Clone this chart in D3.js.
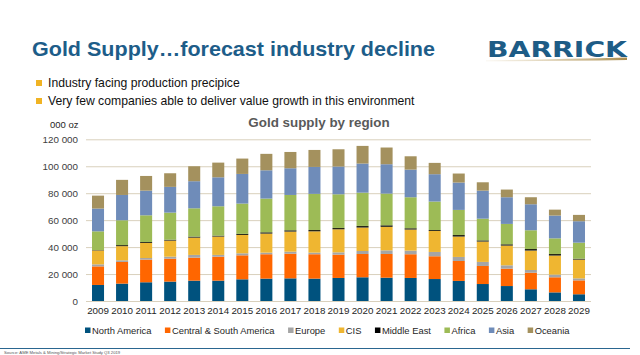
<!DOCTYPE html>
<html>
<head>
<meta charset="utf-8">
<script src="https://cdn.jsdelivr.net/npm/d3@7/dist/d3.min.js"></script>
<style>
  html, body { margin: 0; padding: 0; background: #fff; }
  svg { display: block; font-family: "Liberation Sans", Arial, sans-serif; }
</style>
</head>
<body>
<svg id="chart" width="640" height="355"></svg>
<script>
// ---- Data (000 oz) ----
const years = ["2009","2010","2011","2012","2013","2014","2015","2016","2017","2018","2019","2020","2021","2022","2023","2024","2025","2026","2027","2028","2029"];
const seriesNames = ["North America","Central & South America","Europe","CIS","Middle East","Africa","Asia","Oceania"];
const northAmerica        = [11900,12900,13900,14400,15100,15100,16100,16600,16800,16600,17100,17600,17300,17100,16300,14900,12600,11100,8700,6400,5000];
const centralSouthAmerica = [13800,16100,16800,17000,17100,17800,17800,18100,18300,18100,17300,17300,17600,17600,16900,14800,13400,12900,12300,11200,10300];
const europe              = [1500,1200,1200,1500,2000,1300,1500,1200,1500,1200,1700,2200,2700,2700,3200,3000,3000,2500,2000,2000,1500];
const cis                 = [10300,10500,11200,11900,12800,13600,13600,14100,14900,15800,17100,17400,17400,15600,15600,15100,15100,14600,14400,14100,13900];
const middleEast          = [300,800,700,700,800,700,800,1000,1000,1000,1000,1200,1200,1000,700,1200,900,1000,1200,1200,700];
const africa              = [13900,18400,19800,20100,21000,21800,22500,25000,26200,26800,25000,24700,23500,23000,21100,18600,16100,15100,13900,11600,11900];
const asia                = [16900,18800,18300,19100,20100,21500,22000,21000,19800,20000,20600,21600,21800,20500,20300,20300,20800,19800,19300,16900,15900];
const oceania             = [9600,11200,10900,10100,11100,10900,11400,12200,12100,12600,12800,13100,12400,9900,8400,6700,6200,5700,5200,4400,4700];
const yTicks = [0,20000,40000,60000,80000,100000,120000];
const bullets = ["Industry facing production precipice","Very few companies able to deliver value growth in this environment"];

const seriesValues = [northAmerica, centralSouthAmerica, europe, cis, middleEast, africa, asia, oceania];
const colors = ["#00527E","#FF6600","#A5A5A5","#EFB631","#262616","#9DBB56","#6F8CB9","#A4915E"];

const svg = d3.select("#chart");

// ---- Header ----
svg.append("text").attr("x", 32).attr("y", 56)
  .attr("font-size", 21).attr("font-weight", "bold").attr("fill", "#1D5D89")
  .attr("textLength", 403).attr("lengthAdjust", "spacingAndGlyphs")
  .text("Gold Supply…forecast industry decline");

svg.append("text").attr("x", 487).attr("y", 57)
  .attr("font-size", 21).attr("font-weight", "bold").attr("fill", "#1D5C86")
  .attr("font-family", "'DejaVu Sans', sans-serif")
  .attr("textLength", 140).attr("lengthAdjust", "spacingAndGlyphs")
  .text("BARRICK");
const grad = svg.append("defs").append("linearGradient").attr("id", "sw").attr("x1", "0").attr("x2", "1");
grad.append("stop").attr("offset", "0").attr("stop-color", "#E8DCC0").attr("stop-opacity", 0.3);
grad.append("stop").attr("offset", "1").attr("stop-color", "#A88A4A");
svg.append("path").attr("d", "M486,60.5 Q560,59 627,57.5 L627,60 Q560,61 486,61.3 Z").attr("fill", "url(#sw)");

bullets.forEach((b, i) => {
  const by = 87 + i * 18;
  svg.append("rect").attr("x", 36).attr("y", by - 7).attr("width", 6).attr("height", 6).attr("fill", "#F0B323");
  svg.append("text").attr("x", 48).attr("y", by).attr("font-size", 12.2).attr("fill", "#111").text(b);
});

// ---- Chart ----
const x = d3.scaleBand().domain(years).range([86, 591]).paddingInner(0.5).paddingOuter(0.25);
const y = d3.scaleLinear().domain([0, 120000]).range([301, 139.3]);

svg.append("text").attr("x", 319).attr("y", 127).attr("text-anchor", "middle")
  .attr("font-size", 13.4).attr("font-weight", "bold").attr("fill", "#595959")
  .text("Gold supply by region");
svg.append("text").attr("x", 78.5).attr("y", 127.5).attr("text-anchor", "end")
  .attr("font-size", 9.5).attr("fill", "#262626").text("000 oz");

const yAxis = d3.axisLeft(y).tickValues(yTicks).tickSize(-(591 - 86))
  .tickFormat(d => d3.format(",")(d).replace(/,/g, " "));
const gy = svg.append("g").attr("transform", "translate(86,0)").call(yAxis);
gy.select(".domain").remove();
gy.selectAll(".tick line").attr("stroke", "#D9D0BC").attr("stroke-width", 1);
gy.selectAll(".tick text").attr("x", -8).attr("font-size", 9.8).attr("fill", "#404040")
  .attr("font-family", "'Liberation Sans', Arial, sans-serif");

const rows = years.map((yr, i) => {
  const r = { year: yr };
  seriesNames.forEach((s, k) => r[s] = seriesValues[k][i]);
  return r;
});
const stacked = d3.stack().keys(seriesNames)(rows);

svg.append("g").selectAll("g").data(stacked).join("g")
  .attr("fill", (d, i) => colors[i])
  .selectAll("rect").data(d => d).join("rect")
  .attr("x", d => x(d.data.year))
  .attr("width", x.bandwidth())
  .attr("y", d => y(d[1]))
  .attr("height", d => y(d[0]) - y(d[1]));

const xAxis = d3.axisBottom(x).tickSize(0).tickPadding(0);
const gx = svg.append("g").attr("transform", "translate(0,307)").call(xAxis);
gx.select(".domain").remove();
gx.selectAll(".tick text").attr("font-size", 9.8).attr("fill", "#262626").attr("dy", "0.71em")
  .attr("font-family", "'Liberation Sans', Arial, sans-serif");

// ---- Legend ----
const leg = svg.append("g");
let lx = 92;
seriesNames.forEach((s, i) => {
  leg.append("rect").attr("x", lx - 7).attr("y", 327.5).attr("width", 5.5).attr("height", 5.5).attr("fill", colors[i] === "#262616" ? "#000" : colors[i]);
  const t = leg.append("text").attr("x", lx).attr("y", 333.5).attr("font-size", 9.4).attr("fill", "#262626").text(s);
  lx += t.node().getComputedTextLength() + 20.5;
});

// ---- Footer ----
svg.append("line").attr("x1", 0).attr("x2", 630).attr("y1", 348.5).attr("y2", 348.5)
  .attr("stroke", "#2A6690").attr("stroke-width", 1);
svg.append("text").attr("x", 4).attr("y", 354).attr("font-size", 4.2).attr("fill", "#555")
  .text("Source: AME Metals & Mining/Strategic Market Study Q3 2019");
</script>
</body>
</html>
